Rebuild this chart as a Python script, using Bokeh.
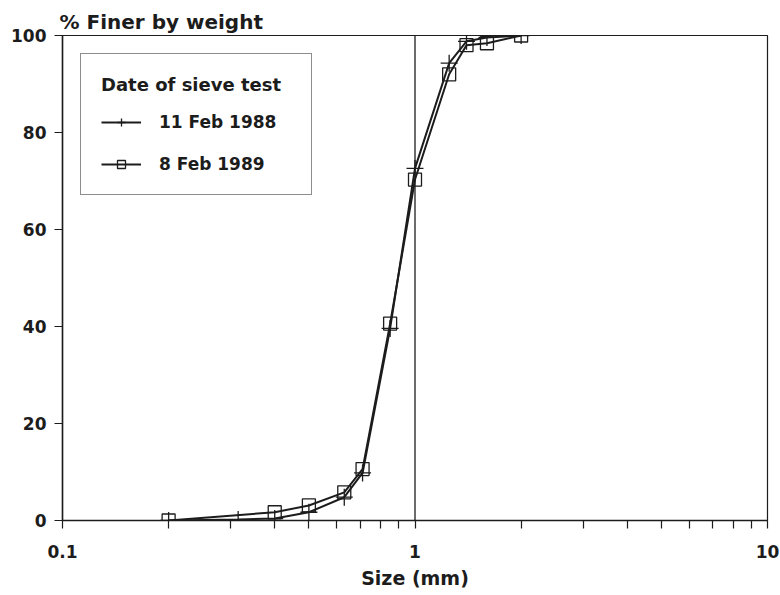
from bokeh.plotting import figure
from bokeh.models import (FixedTicker, CustomJSTickFormatter, Span, Legend, LegendItem)
from bokeh.embed import file_html
from bokeh.resources import INLINE

# Data (sieve sizes in mm, % finer by weight)
sizes_1988 = [0.2, 0.315, 0.4, 0.5, 0.63, 0.71, 0.85, 1.0, 1.25, 1.4, 1.6, 2.0]
finer_1988 = [0.0, 0.2, 0.4, 1.7, 4.8, 9.8, 39.6, 72.6, 94.3, 98.8, 99.6, 100.0]
sizes_1989 = [0.2, 0.4, 0.5, 0.63, 0.71, 0.85, 1.0, 1.25, 1.4, 1.6, 2.0]
finer_1989 = [0.0, 1.7, 3.1, 5.8, 10.6, 40.6, 70.3, 92.0, 98.0, 98.4, 100.0]

x_major = [0.1, 1, 10]
x_minor = [0.2, 0.3, 0.4, 0.5, 0.6, 0.7, 0.8, 0.9, 2, 3, 4, 5, 6, 7, 8, 9]
y_ticks = [0, 20, 40, 60, 80, 100]

FONT = "DejaVu Sans"
INK = "#1c1c1c"

p = figure(width=780, height=595, x_axis_type="log", x_range=(0.1, 10), y_range=(0, 100),
           output_backend="svg", toolbar_location=None,
           min_border_left=62, min_border_right=13, min_border_top=35, min_border_bottom=75)

p.background_fill_color = "white"
p.border_fill_color = "white"
p.grid.visible = False
p.outline_line_color = INK
p.outline_line_width = 1.2

# Title
p.title.text = "% Finer by weight"
p.title.text_font = FONT
p.title.text_font_size = "20px"
p.title.text_font_style = "bold"
p.title.text_color = INK
p.title.align = "left"
p.title.offset = -3
p.title.standoff = 4

# X axis
xa = p.xaxis[0]
xa.ticker = FixedTicker(ticks=x_major, minor_ticks=x_minor)
xa.formatter = CustomJSTickFormatter(code="return tick.toString();")
xa.major_tick_out = 8
xa.major_tick_in = 0
xa.minor_tick_out = 8
xa.minor_tick_in = 0
xa.axis_line_width = 1.5
xa.axis_line_color = INK
xa.major_tick_line_color = INK
xa.minor_tick_line_color = INK
xa.major_tick_line_width = 1.2
xa.minor_tick_line_width = 1.2
xa.major_label_text_font = FONT
xa.major_label_text_font_size = "17px"
xa.major_label_text_font_style = "bold"
xa.major_label_text_color = INK
xa.major_label_standoff = 16
xa.axis_label = "Size (mm)"
xa.axis_label_text_font = FONT
xa.axis_label_text_font_size = "19px"
xa.axis_label_text_font_style = "bold"
xa.axis_label_text_color = INK
xa.axis_label_standoff = 6

# Y axis
ya = p.yaxis[0]
ya.ticker = FixedTicker(ticks=y_ticks)
ya.major_tick_out = 8
ya.major_tick_in = 0
ya.minor_tick_out = 0
ya.minor_tick_in = 0
ya.axis_line_width = 1.5
ya.axis_line_color = INK
ya.major_tick_line_color = INK
ya.major_tick_line_width = 1.2
ya.major_label_text_font = FONT
ya.major_label_text_font_size = "17px"
ya.major_label_text_font_style = "bold"
ya.major_label_text_color = INK
ya.major_label_standoff = 8

# Vertical reference line at 1 mm
p.add_layout(Span(location=1, dimension="height", line_color=INK, line_width=1.3))

# Series
l88 = p.line(sizes_1988, finer_1988, line_color=INK, line_width=2)
m88 = p.scatter(sizes_1988, finer_1988, marker="cross", size=17, line_color=INK, line_width=1.3)
l89 = p.line(sizes_1989, finer_1989, line_color=INK, line_width=2)
m89 = p.scatter(sizes_1989, finer_1989, marker="square", size=13, line_color=INK,
                fill_alpha=0, line_width=1.3)

legend = Legend(items=[LegendItem(label="11 Feb 1988", renderers=[l88, m88]),
                       LegendItem(label="8 Feb 1989", renderers=[l89, m89])],
                location="top_left")
legend.title = "Date of sieve test"
legend.title_text_font = FONT
legend.title_text_font_size = "18px"
legend.title_text_font_style = "bold"
legend.title_text_color = INK
legend.title_standoff = 17
legend.label_text_font = FONT
legend.label_text_font_size = "17px"
legend.label_text_font_style = "bold"
legend.label_text_color = INK
legend.border_line_color = INK
legend.border_line_width = 1.2
legend.background_fill_alpha = 1
legend.padding = 20
legend.margin = 18
legend.spacing = 22
legend.glyph_width = 40
legend.glyph_height = 20
legend.label_standoff = 18
legend.label_height = 20
legend.label_width = 132
p.add_layout(legend)

open("out.html", "w").write(file_html(p, INLINE))
